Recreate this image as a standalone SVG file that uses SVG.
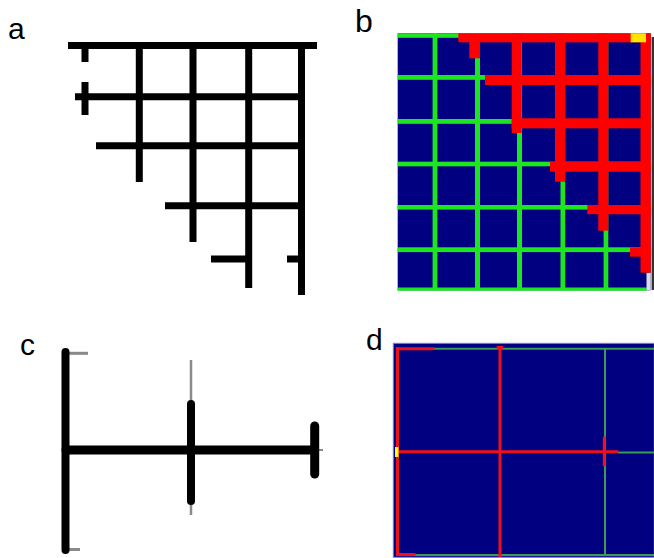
<svg xmlns="http://www.w3.org/2000/svg" width="654" height="558" viewBox="0 0 654 558">
<style>
.lbl{font-family:"Liberation Sans",Arial,sans-serif;font-size:30px;fill:#000}
.ka{stroke:#000;stroke-width:7;stroke-linecap:butt;fill:none}
.kc{stroke:#000;stroke-linecap:round;fill:none}
.gc{stroke:#8a8a8a;stroke-linecap:butt;fill:none}
.gb{fill:#1ee61e}
.rb{fill:#ff0000}
.gd{stroke:#3c9a52;stroke-width:2;fill:none}
.rd{stroke:#f0101a;stroke-width:3;fill:none}
</style>
<rect width="654" height="558" fill="#fff"/>

<g id="panel-a">
<text class="lbl" x="8" y="39">a</text>
<line class="ka" x1="68" y1="45.5" x2="317" y2="45.5"/>
<line class="ka" x1="139.3" y1="45" x2="139.3" y2="182"/>
<line class="ka" x1="193" y1="45" x2="193" y2="242"/>
<line class="ka" x1="248.7" y1="45" x2="248.7" y2="288"/>
<line class="ka" x1="301.5" y1="45" x2="301.5" y2="295"/>
<line class="ka" x1="85" y1="45" x2="85" y2="62"/>
<line class="ka" x1="85" y1="82" x2="85" y2="115"/>
<line class="ka" x1="75" y1="96.7" x2="298" y2="96.7"/>
<line class="ka" x1="96" y1="145.7" x2="298" y2="145.7"/>
<line class="ka" x1="165" y1="205.7" x2="305" y2="205.7"/>
<line class="ka" x1="211" y1="259" x2="247" y2="259"/>
<line class="ka" x1="287" y1="259" x2="305" y2="259"/>
</g>

<g id="panel-b">
<text class="lbl" x="355" y="31.5" style="font-size:32px">b</text>
<rect x="397.7" y="33.3" width="253" height="257" fill="#000080"/>
<rect class="gb" x="397.7" y="33.3" width="253" height="4.5"/>
<rect class="gb" x="397.7" y="75" width="253" height="4.8"/>
<rect class="gb" x="397.7" y="119" width="253" height="4.8"/>
<rect class="gb" x="397.7" y="161.7" width="253" height="4.6"/>
<rect class="gb" x="397.7" y="205" width="253" height="4.6"/>
<rect class="gb" x="397.7" y="247.3" width="253" height="4.8"/>
<rect class="gb" x="397.7" y="287.5" width="249" height="3.2"/>
<rect class="gb" x="432.6" y="33.3" width="4.8" height="257"/>
<rect class="gb" x="475" y="33.3" width="5" height="257"/>
<rect class="gb" x="517" y="33.3" width="5" height="257"/>
<rect class="gb" x="560.5" y="33.3" width="4.7" height="257"/>
<rect class="gb" x="603.6" y="33.3" width="4.7" height="257"/>
<rect x="646.5" y="272.7" width="4.2" height="17.5" fill="#dcdce6"/>
<rect class="rb" x="458.3" y="33.3" width="192.4" height="9"/>
<rect class="rb" x="469.3" y="42" width="10.7" height="16.3"/>
<rect class="rb" x="485" y="75" width="165.7" height="10"/>
<rect class="rb" x="511.7" y="118.3" width="139" height="10"/>
<rect class="rb" x="550" y="161.7" width="100.7" height="10"/>
<rect class="rb" x="587.3" y="205" width="63.4" height="9.2"/>
<rect class="rb" x="630" y="247.3" width="20.7" height="9.4"/>
<rect class="rb" x="511.7" y="33.3" width="10" height="99.7"/>
<rect class="rb" x="555" y="33.3" width="10" height="148.4"/>
<rect class="rb" x="598.3" y="33.3" width="10" height="197.4"/>
<rect class="rb" x="640.5" y="33.3" width="10.2" height="239.4"/>
<rect x="630.7" y="33.3" width="15.3" height="9" fill="#ffe400"/>
<rect x="651.6" y="37" width="2.4" height="253" fill="#333"/>
</g>

<g id="panel-c">
<text class="lbl" x="20" y="355">c</text>
<line class="gc" x1="68" y1="353.3" x2="88" y2="353.3" stroke-width="3"/>
<line class="gc" x1="68" y1="549.5" x2="80" y2="549.5" stroke-width="3"/>
<line class="gc" x1="191" y1="360" x2="191" y2="406" stroke-width="2.5"/>
<line class="gc" x1="191" y1="500" x2="191" y2="515" stroke-width="2.5"/>
<line class="gc" x1="316" y1="450" x2="323" y2="450" stroke-width="2"/>
<line class="kc" x1="65.5" y1="352" x2="65.5" y2="550" stroke-width="8"/>
<line class="kc" x1="66" y1="450" x2="314" y2="450" stroke-width="9" stroke-linecap="butt"/>
<line class="kc" x1="191" y1="404" x2="191" y2="501" stroke-width="8"/>
<line class="kc" x1="314.7" y1="426" x2="314.7" y2="474" stroke-width="9"/>
</g>

<g id="panel-d">
<text class="lbl" x="366" y="350">d</text>
<rect x="393.3" y="343.3" width="261" height="214" fill="#000080" stroke="#8080c8" stroke-width="1"/>
<line class="gd" x1="434" y1="348.7" x2="654" y2="348.7"/>
<line class="gd" x1="415" y1="555" x2="654" y2="555"/>
<line class="gd" x1="605" y1="348" x2="605" y2="556"/>
<line class="gd" x1="618" y1="452.5" x2="654" y2="452.5"/>
<line class="rd" x1="397.5" y1="347.2" x2="397.5" y2="556"/>
<line class="rd" x1="396" y1="348.7" x2="434.3" y2="348.7"/>
<line class="rd" x1="396" y1="554.5" x2="415.5" y2="554.5"/>
<line class="rd" x1="500" y1="346" x2="500" y2="557"/>
<rect x="496.7" y="346" width="6.6" height="4" fill="#f0101a"/>
<line class="rd" x1="397" y1="451.7" x2="618.3" y2="451.7"/>
<line class="rd" x1="604.3" y1="436.7" x2="604.3" y2="466" stroke-width="3.3"/>
<rect x="395" y="447" width="3.5" height="10" fill="#ffff00"/>
</g>
</svg>
